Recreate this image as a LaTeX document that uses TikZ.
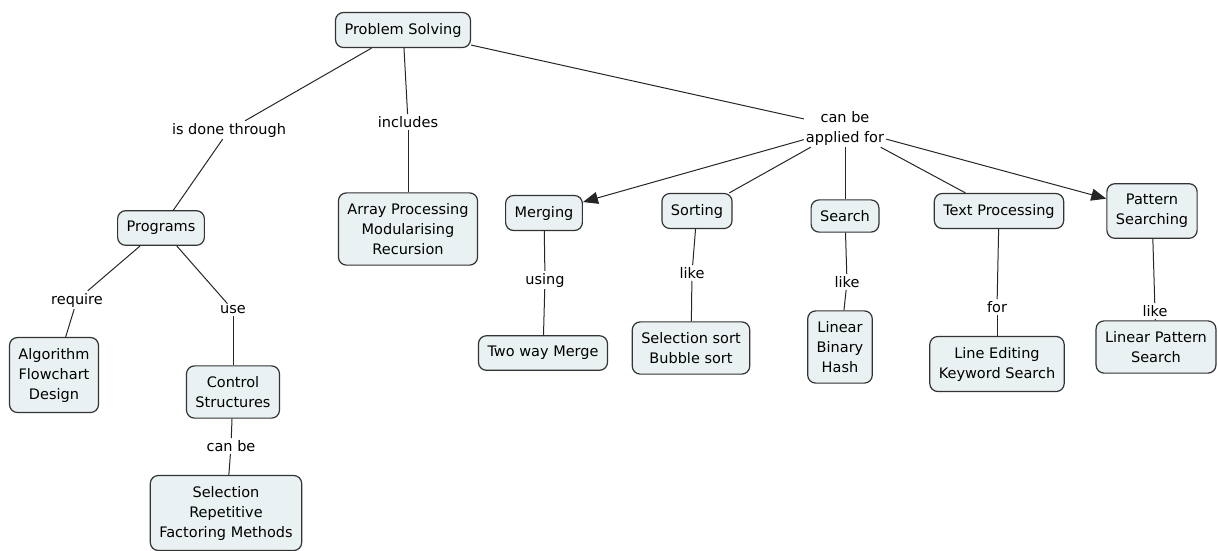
\documentclass[tikz,border=0pt]{standalone}
\usepackage{fontspec}
\setmainfont{DejaVu Sans}
\usetikzlibrary{arrows.meta}
\definecolor{boxfill}{HTML}{E9F1F3}
\definecolor{boxline}{HTML}{333333}
\begin{document}
\begin{tikzpicture}[x=1pt,y=-1pt,
  concept/.style={draw=boxline,line width=1.2pt,fill=boxfill,rounded corners=8pt,
    align=center,inner xsep=9pt,inner ysep=10.5pt,font=\fontsize{14.5}{20}\selectfont},
  lab/.style={align=center,inner sep=2pt,font=\fontsize{14.5}{20}\selectfont},
  link/.style={draw=black!85,line width=1pt},
  arr/.style={link,-{Triangle[length=15pt,width=12pt]}}]
\useasboundingbox (0,0) rectangle (1218,550);
\node[concept] (ps) at (403,30) {Problem Solving};
\node[lab] (l1) at (229,130) {is done through};
\node[lab] (l2) at (408,122) {includes};
\node[lab] (l3) at (845,128) {can be\\applied for};
\node[concept] (prog) at (161,228) {Programs};
\node[concept] (arr) at (408,229) {Array Processing\\Modularising\\Recursion};
\node[concept] (merg) at (544,213) {Merging};
\node[concept] (sort) at (697,211) {Sorting};
\node[concept] (srch) at (845,216) {Search};
\node[concept] (text) at (999,211) {Text Processing};
\node[concept] (pat) at (1152,211) {Pattern\\Searching};
\node[lab] (l4) at (77,300) {require};
\node[lab] (l5) at (233,310) {use};
\node[concept] (alg) at (54,375) {Algorithm\\Flowchart\\Design};
\node[concept] (ctrl) at (233,392) {Control\\Structures};
\node[lab] (l6) at (231,446) {can be};
\node[concept] (sel) at (226,513) {Selection\\Repetitive\\Factoring Methods};
\node[lab] (l7) at (545,280) {using};
\node[lab] (l8) at (692,273) {like};
\node[lab] (l9) at (847,282) {like};
\node[lab] (l10) at (997,307) {for};
\node[lab] (l11) at (1155,311) {like};
\node[concept] (twm) at (543,353) {Two way Merge};
\node[concept] (ssbs) at (691,348) {Selection sort\\Bubble sort};
\node[concept] (lbh) at (840,347) {Linear\\Binary\\Hash};
\node[concept] (led) at (997,364) {Line Editing\\Keyword Search};
\node[concept] (lps) at (1156,347) {Linear Pattern\\Search};
\draw[link] (ps) -- (l1); \draw[link] (l1) -- (prog);
\draw[link] (ps) -- (l2); \draw[link] (l2) -- (arr);
\draw[link] (ps) -- (l3);
\draw[arr] (l3) -- (merg);
\draw[link] (l3) -- (sort);
\draw[link] (l3) -- (srch);
\draw[link] (l3) -- (text);
\draw[arr] (l3) -- (pat);
\draw[link] (prog) -- (l4); \draw[link] (l4) -- (alg);
\draw[link] (prog) -- (l5); \draw[link] (l5) -- (ctrl);
\draw[link] (ctrl) -- (l6); \draw[link] (l6) -- (sel);
\draw[link] (merg) -- (l7); \draw[link] (l7) -- (twm);
\draw[link] (sort) -- (l8); \draw[link] (l8) -- (ssbs);
\draw[link] (srch) -- (l9); \draw[link] (l9) -- (lbh);
\draw[link] (text) -- (l10); \draw[link] (l10) -- (led);
\draw[link] (pat) -- (l11); \draw[link] (l11) -- (lps);
\end{tikzpicture}
\end{document}
